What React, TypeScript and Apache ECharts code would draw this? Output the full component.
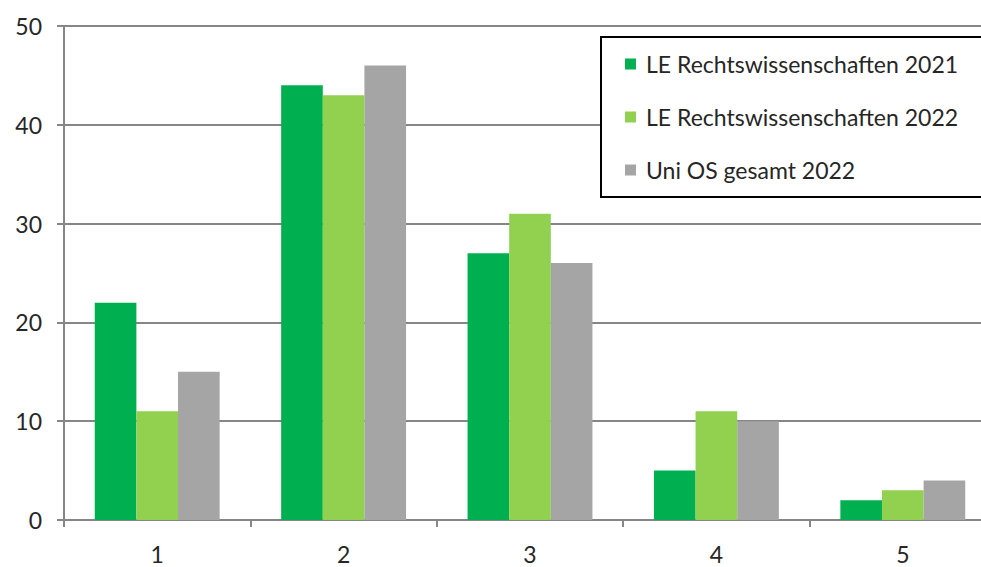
import React, { useEffect, useRef } from "react";
import * as echarts from "echarts";

const categories = ["1", "2", "3", "4", "5"];
const rw2021 = [22, 44, 27, 5, 2];
const rw2022 = [11, 43, 31, 11, 3];
const uniOs2022 = [15, 46, 26, 10, 4];
const seriesNames = [
  "LE Rechtswissenschaften 2021",
  "LE Rechtswissenschaften 2022",
  "Uni OS gesamt 2022",
];
const colors = ["#00B050", "#92D050", "#A5A5A5"];

const FONT = "Lato, 'Open Sans', sans-serif";

export default function App() {
  const ref = useRef<HTMLDivElement>(null);

  useEffect(() => {
    if (!ref.current) return;
    const chart = echarts.init(ref.current, undefined, { renderer: "svg" });
    const data = [rw2021, rw2022, uniOs2022];
    chart.setOption({
      animation: false,
      backgroundColor: "#ffffff",
      color: colors,
      textStyle: { fontFamily: FONT },
      grid: { left: 64, right: 0, top: 26, bottom: 47, containLabel: false },
      legend: {
        orient: "vertical",
        left: 601,
        top: 37,
        padding: [14, 40, 14, 24],
        borderColor: "#000000",
        borderWidth: 2,
        backgroundColor: "#ffffff",
        itemWidth: 11,
        itemHeight: 11,
        itemGap: 27,
        icon: "rect",
        textStyle: {
          fontFamily: FONT,
          fontSize: 23,
          color: "#262626",
          lineHeight: 26,
          padding: [0, 0, 0, 5],
        },
        data: seriesNames,
      },
      xAxis: {
        type: "category",
        data: categories,
        axisLine: { show: true, lineStyle: { color: "#868686", width: 2 } },
        axisTick: { show: true, length: 7, lineStyle: { color: "#868686", width: 2 } },
        axisLabel: { fontFamily: FONT, fontSize: 23, color: "#262626", margin: 22 },
      },
      yAxis: {
        type: "value",
        min: 0,
        max: 50,
        interval: 10,
        axisLine: { show: true, lineStyle: { color: "#868686", width: 2 } },
        axisTick: { show: true, length: 7, lineStyle: { color: "#868686", width: 2 } },
        axisLabel: { fontFamily: FONT, fontSize: 23, color: "#262626", margin: 22 },
        splitLine: { show: true, lineStyle: { color: "#868686", width: 2 } },
      },
      series: seriesNames.map((name, i) => ({
        name,
        type: "bar",
        data: data[i],
        barGap: "0%",
        barCategoryGap: "33%",
        itemStyle: { color: colors[i] },
      })),
    });
    return () => chart.dispose();
  }, []);

  return (
    <div style={{ position: "fixed", left: 0, top: 0, width: 981, height: 567, overflow: "hidden", background: "#fff" }}>
      <div ref={ref} style={{ width: 996, height: 567 }} />
    </div>
  );
}
